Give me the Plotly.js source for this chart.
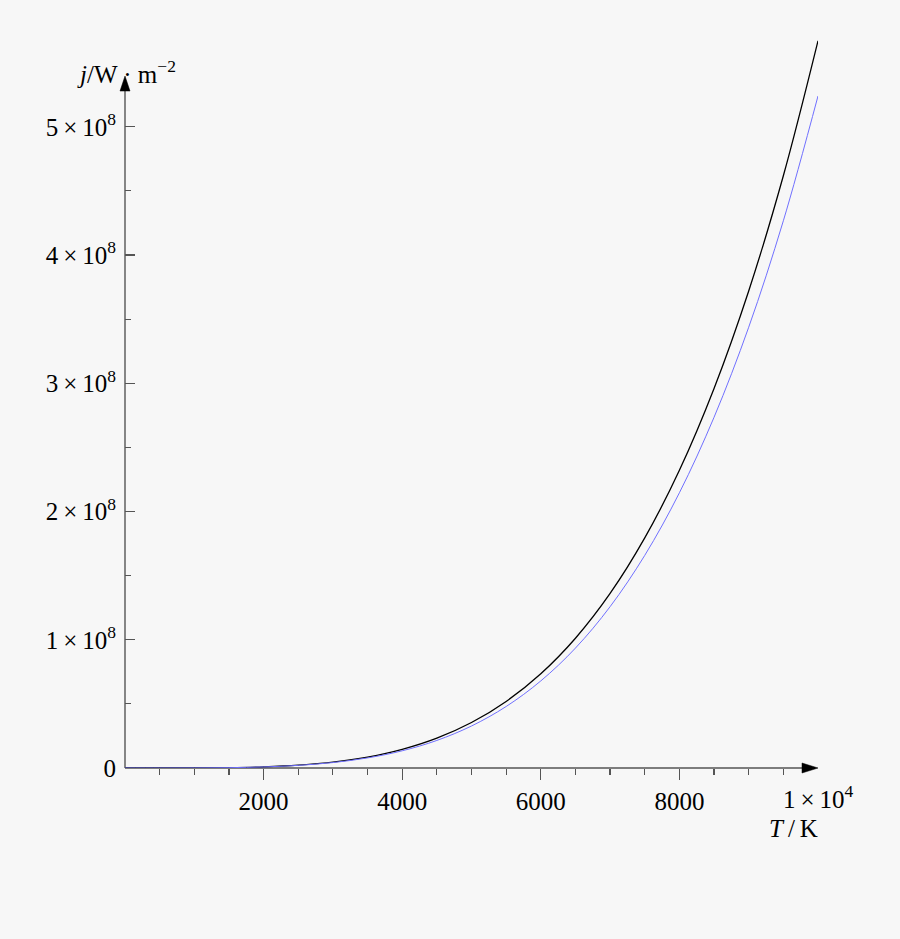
<!DOCTYPE html>
<html>
<head>
<meta charset="utf-8">
<script src="https://cdn.plot.ly/plotly-3.0.1.min.js"></script>
<style>html,body{margin:0;padding:0;background:#f7f7f7;}</style>
</head>
<body>
<div id="chart" style="width:900px;height:939px;"></div>
<script>
// Temperature T (K)
const temperature = [0, 500, 1000, 1500, 2000, 2500, 3000, 3500, 4000, 4500, 5000,
  5500, 6000, 6500, 7000, 7500, 8000, 8500, 9000, 9500, 10000];
// black curve, j (W·m^-2)
const blackCurve = [0, 3.5e3, 5.7e4, 2.87e5, 9.07e5, 2.21e6, 4.59e6, 8.51e6, 1.452e7, 2.325e7, 3.544e7,
  5.19e7, 7.35e7, 1.012e8, 1.361e8, 1.794e8, 2.322e8, 2.96e8, 3.72e8, 4.618e8, 5.67e8];
// blue curve, j (W·m^-2)
const blueCurve = [0, 3.3e3, 5.24e4, 2.65e5, 8.38e5, 2.04e6, 4.24e6, 7.86e6, 1.342e7, 2.148e7, 3.275e7,
  4.795e7, 6.79e7, 9.35e7, 1.258e8, 1.658e8, 2.146e8, 2.735e8, 3.437e8, 4.267e8, 5.24e8];

const xTickVals = [2000, 4000, 6000, 8000];
const xTickText = ["2000", "4000", "6000", "8000"];
const xMinorVals = [500, 1000, 1500, 2500, 3000, 3500, 4500, 5000, 5500, 6500, 7000, 7500, 8500, 9000, 9500];
const yTickVals = [0, 1e8, 2e8, 3e8, 4e8, 5e8];
const yTickText = ["0", "1\u2009×\u200910<sup>8</sup>", "2\u2009×\u200910<sup>8</sup>", "3\u2009×\u200910<sup>8</sup>",
  "4\u2009×\u200910<sup>8</sup>", "5\u2009×\u200910<sup>8</sup>"];
const yMinorVals = [0.5e8, 1.5e8, 2.5e8, 3.5e8, 4.5e8];
const xEndLabel = "1\u2009×\u200910<sup>4</sup>";

const serif = '"Liberation Serif", "Times New Roman", serif';
const axisColor = '#555555';
const fs = 25;

const traces = [
  {x: temperature, y: blackCurve, mode: 'lines', line: {color: '#000000', width: 1.3, shape: 'spline'}, hoverinfo: 'skip'},
  {x: temperature, y: blueCurve, mode: 'lines', line: {color: '#7070ff', width: 1, shape: 'spline'}, hoverinfo: 'skip'}
];

const layout = {
  width: 900, height: 939,
  paper_bgcolor: '#f7f7f7', plot_bgcolor: '#f7f7f7',
  showlegend: false,
  margin: {l: 125, r: 82, t: 37, b: 171},
  font: {family: serif, size: fs, color: '#000000'},
  xaxis: {
    range: [0, 10000], showgrid: false, zeroline: false, showline: false,
    tickmode: 'array', tickvals: xTickVals, ticktext: xTickText,
    ticks: 'outside', ticklen: 11, tickwidth: 1.3, tickcolor: axisColor,
    tickfont: {family: serif, size: fs, color: '#000'},
    minor: {tickmode: 'array', tickvals: xMinorVals, ticks: 'outside', ticklen: 6, tickwidth: 1.2, tickcolor: axisColor, showgrid: false}
  },
  yaxis: {
    range: [0, 5.7e8], showgrid: false, zeroline: false, showline: false,
    tickmode: 'array', tickvals: yTickVals, ticktext: yTickText,
    ticks: 'inside', ticklen: 10, tickwidth: 1.3, tickcolor: axisColor,
    ticklabelstandoff: 8,
    tickfont: {family: serif, size: fs, color: '#000'},
    minor: {tickmode: 'array', tickvals: yMinorVals, ticks: 'inside', ticklen: 6, tickwidth: 1.2, tickcolor: axisColor, showgrid: false}
  },
  shapes: [
    {type: 'line', xref: 'paper', yref: 'paper', x0: 0, x1: 0.985, y0: 0, y1: 0, line: {color: axisColor, width: 1.4}, layer: 'below'},
    {type: 'line', xref: 'paper', yref: 'paper', x0: 0, x1: 0, y0: 0, y1: 0.93, line: {color: axisColor, width: 1.4}, layer: 'below'},
    {type: 'path', xref: 'paper', yref: 'paper', xsizemode: 'pixel', ysizemode: 'pixel', xanchor: 1, yanchor: 0,
     path: 'M0,0 L-16,5 L-16,-5 Z', fillcolor: '#000', line: {color: '#000', width: 0.5}},
    {type: 'path', xref: 'paper', yref: 'paper', xsizemode: 'pixel', ysizemode: 'pixel', xanchor: 0, yanchor: 0.9466,
     path: 'M0,0 L-5,-15 L5,-15 Z', fillcolor: '#000', line: {color: '#000', width: 0.5}}
  ],
  annotations: [
    {text: xEndLabel, xref: 'x', yref: 'paper', x: 10000, y: (768 - 797) / 731, xanchor: 'center', yanchor: 'middle', showarrow: false, font: {family: serif, size: fs, color: '#000'}},
    {text: '<i>T</i>\u2009/\u2009K', xref: 'paper', yref: 'paper', x: (793 - 125) / 693, y: (768 - 828) / 731, xanchor: 'center', yanchor: 'middle', showarrow: false, font: {family: serif, size: fs, color: '#000'}},
    {text: '<i>j</i>/W · m<sup>−2</sup>', xref: 'paper', yref: 'paper', x: (75 - 125) / 693, y: (768 - 72) / 731, xanchor: 'left', yanchor: 'middle', showarrow: false, font: {family: serif, size: fs, color: '#000'}}
  ]
};

Plotly.newPlot('chart', traces, layout, {staticPlot: true, displayModeBar: false});
</script>
</body>
</html>
